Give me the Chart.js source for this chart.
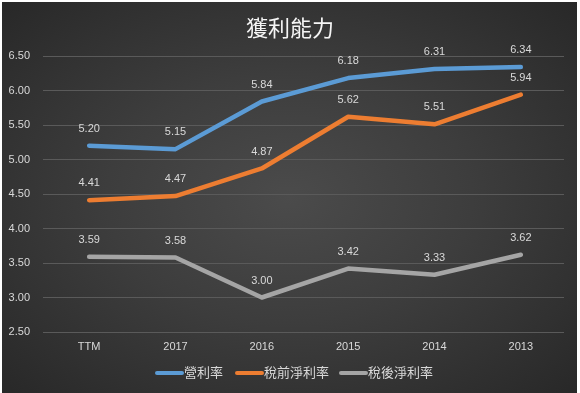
<!DOCTYPE html>
<html>
<head>
<meta charset="utf-8">
<script src="https://cdn.jsdelivr.net/npm/chart.js@4/dist/chart.umd.min.js"></script>
<style>
  html, body { margin:0; padding:0; width:580px; height:393px; background:#ffffff; overflow:hidden; }
  #bg { position:absolute; left:2px; top:2px; width:575px; height:391px;
        background: radial-gradient(ellipse at 50% 50%, #4b4b4b 0%, #3d3d3d 45%, #282828 100%); }
  #c { position:absolute; left:0; top:0; }
</style>
</head>
<body>
<div id="bg"></div>
<canvas id="c" width="580" height="393"></canvas>
<script>
const categories = ['TTM', '2017', '2016', '2015', '2014', '2013'];
const seriesNames = ['營利率', '稅前淨利率', '稅後淨利率'];
const operatingMargin = [5.20, 5.15, 5.84, 6.18, 6.31, 6.34];
const pretaxMargin = [4.41, 4.47, 4.87, 5.62, 5.51, 5.94];
const netMargin = [3.59, 3.58, 3.00, 3.42, 3.33, 3.62];
const yTicks = [2.5, 3.0, 3.5, 4.0, 4.5, 5.0, 5.5, 6.0, 6.5];
const titleText = '獲利能力';

const colors = ['#5B9BD5', '#ED7D31', '#A5A5A5'];
const textColor = '#d9d9d9';
const numFont = '"Liberation Sans", "Noto Sans CJK TC", sans-serif';
const cjkFont = '"Noto Sans CJK TC", "Liberation Sans", sans-serif';

const overlay = {
  id: 'overlay',
  afterDatasetsDraw(chart) {
    const ctx = chart.ctx;
    ctx.save();
    // data labels
    ctx.font = '11px ' + numFont;
    ctx.fillStyle = textColor;
    ctx.textAlign = 'center';
    ctx.textBaseline = 'middle';
    chart.data.datasets.forEach((ds, i) => {
      const meta = chart.getDatasetMeta(i);
      meta.data.forEach((pt, j) => {
        ctx.fillText(ds.data[j].toFixed(2), pt.x, pt.y - 17);
      });
    });
    // title
    ctx.font = '22px ' + cjkFont;
    ctx.fillStyle = '#f5f5f5';
    ctx.fillText(titleText, 290, 28);
    // legend
    const legendX = [155, 235, 339];
    ctx.font = '13px ' + cjkFont;
    ctx.textAlign = 'left';
    chart.data.datasets.forEach((ds, i) => {
      const x = legendX[i];
      ctx.strokeStyle = ds.borderColor;
      ctx.lineWidth = 4;
      ctx.lineCap = 'round';
      ctx.beginPath();
      ctx.moveTo(x + 2, 373);
      ctx.lineTo(x + 27, 373);
      ctx.stroke();
      ctx.fillStyle = textColor;
      ctx.fillText(ds.label, x + 29, 372);
    });
    ctx.restore();
  }
};

new Chart(document.getElementById('c'), {
  type: 'line',
  data: {
    labels: categories,
    datasets: [
      { label: seriesNames[0], data: operatingMargin, borderColor: colors[0], backgroundColor: colors[0] },
      { label: seriesNames[1], data: pretaxMargin, borderColor: colors[1], backgroundColor: colors[1] },
      { label: seriesNames[2], data: netMargin, borderColor: colors[2], backgroundColor: colors[2] }
    ].map(d => Object.assign(d, {
      borderWidth: 4.5, pointRadius: 0, tension: 0, fill: false,
      borderCapStyle: 'round', borderJoinStyle: 'round'
    }))
  },
  options: {
    responsive: false,
    animation: false,
    layout: { padding: { left: 0, top: 56, right: 16, bottom: 0 } },
    plugins: { legend: { display: false }, title: { display: false }, tooltip: { enabled: false } },
    scales: {
      x: {
        offset: true,
        grid: { display: false, drawTicks: false },
        border: { display: false },
        ticks: { color: textColor, font: { size: 11, family: numFont }, padding: 8, maxRotation: 0 },
        afterFit(s) { s.height = 61; }
      },
      y: {
        min: 2.5, max: 6.5,
        afterBuildTicks(s) { s.ticks = yTicks.map(v => ({ value: v })); },
        grid: { color: '#5a5a5a', lineWidth: 1, drawTicks: true, tickLength: 3 },
        border: { display: false },
        ticks: { color: textColor, font: { size: 11, family: numFont }, padding: 13,
                 callback: v => Number(v).toFixed(2) },
        afterFit(s) { s.width = 46; }
      }
    }
  },
  plugins: [overlay]
});
</script>
</body>
</html>
